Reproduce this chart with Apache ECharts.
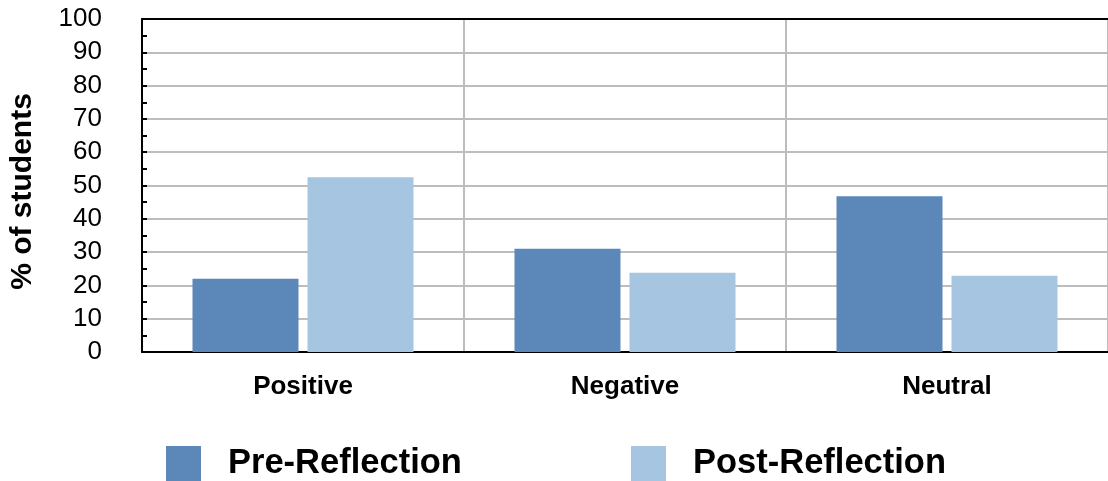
<!DOCTYPE html>
<html>
<head>
<meta charset="utf-8">
<script src="https://cdn.jsdelivr.net/npm/echarts@6/dist/echarts.min.js"></script>
<style>
  html, body { margin: 0; padding: 0; background: #ffffff; }
  #chart { width: 1108px; height: 481px; }
</style>
</head>
<body>
<div id="chart"></div>
<script>
// Share of students by sentiment, before and after reflection
const categories = ['Positive', 'Negative', 'Neutral'];
const preReflection = [22, 31, 46.8];
const postReflection = [52.5, 23.8, 22.9];
const seriesNames = ['Pre-Reflection', 'Post-Reflection'];
const yAxisTitle = '% of students';

const FONT = '"Liberation Sans", Arial, Helvetica, sans-serif';
const DARK = '#5b88b8';
const LIGHT = '#a5c5e1';

const chart = echarts.init(document.getElementById('chart'), null, { renderer: 'canvas' });

const legendBase = {
  orient: 'horizontal',
  top: 441,
  itemWidth: 35,
  itemHeight: 35,
  icon: 'rect',
  selectedMode: false,
  textStyle: {
    fontFamily: FONT,
    fontSize: 34.5,
    fontWeight: 'bold',
    color: '#000',
    padding: [0, 0, 0, 22]
  }
};

chart.setOption({
  animation: false,
  backgroundColor: '#ffffff',
  grid: { left: 141, top: 19, width: 975, height: 333, containLabel: false },
  legend: [
    Object.assign({}, legendBase, { left: 161, data: [seriesNames[0]] }),
    Object.assign({}, legendBase, { left: 626, data: [seriesNames[1]] })
  ],
  xAxis: [
    {
      type: 'category',
      data: categories,
      position: 'bottom',
      boundaryGap: true,
      axisLine: { show: true, lineStyle: { color: '#000', width: 2 } },
      axisTick: { show: false },
      axisLabel: {
        margin: 22,
        fontFamily: FONT,
        fontSize: 26,
        fontWeight: 'bold',
        color: '#000'
      },
      splitLine: { show: true, lineStyle: { color: '#bdbdbd', width: 2 } }
    },
    {
      type: 'category',
      data: categories,
      position: 'top',
      axisLine: { show: true, lineStyle: { color: '#000', width: 2 } },
      axisTick: { show: false },
      axisLabel: { show: false },
      splitLine: { show: false }
    }
  ],
  yAxis: {
    type: 'value',
    min: 0,
    max: 100,
    interval: 10,
    name: yAxisTitle,
    nameLocation: 'middle',
    nameGap: 104,
    nameRotate: 90,
    nameTextStyle: {
      fontFamily: FONT,
      fontSize: 30,
      fontWeight: 'bold',
      color: '#000',
      padding: [0, 12, 0, 0]
    },
    axisLine: { show: true, lineStyle: { color: '#000', width: 2 } },
    axisTick: { show: true, inside: true, length: 5, lineStyle: { color: '#000', width: 2 } },
    minorTick: { show: true, splitNumber: 2, length: 5, lineStyle: { color: '#000', width: 2 } },
    axisLabel: {
      margin: 40,
      fontFamily: FONT,
      fontSize: 26,
      color: '#000'
    },
    splitLine: { show: true, lineStyle: { color: '#bdbdbd', width: 2 } }
  },
  series: [
    {
      name: seriesNames[0],
      type: 'bar',
      data: preReflection,
      barWidth: 106,
      barGap: '8.5%',
      itemStyle: { color: DARK },
      z: 3
    },
    {
      name: seriesNames[1],
      type: 'bar',
      data: postReflection,
      barWidth: 106,
      itemStyle: { color: LIGHT },
      z: 3
    }
  ]
});
</script>
</body>
</html>
